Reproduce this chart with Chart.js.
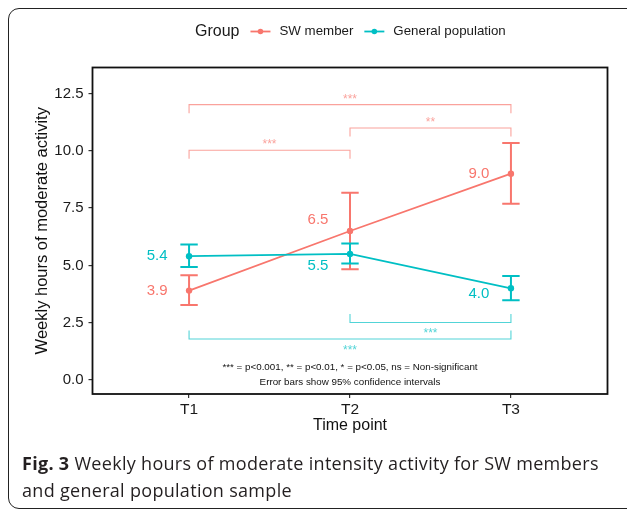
<!DOCTYPE html>
<html>
<head>
<meta charset="utf-8">
<script src="https://cdn.jsdelivr.net/npm/chart.js@4.4.1/dist/chart.umd.min.js"></script>
<style>
  html, body { margin: 0; padding: 0; background: #fff; overflow: hidden; }
  #wrap { position: relative; width: 627px; height: 511px; }
  #frame { position: absolute; left: 8px; top: 8px; width: 660px; height: 501px;
           border: 1.6px solid #222; border-radius: 11px; box-sizing: border-box; }
  #chart { position: absolute; left: 0; top: 0; }
  #caption { position: absolute; left: 22px; top: 450px; width: 605px;
             font-family: "Open Sans", "Noto Sans", sans-serif; font-size: 18px;
             letter-spacing: 0.3px; line-height: 27px; color: #231f20; white-space: nowrap; }
  #caption b { font-weight: 700; }
</style>
</head>
<body>
<div id="wrap">
  <div id="frame"></div>
  <canvas id="chart" width="627" height="511"></canvas>
  <div id="caption"><b>Fig. 3</b> Weekly hours of moderate intensity activity for SW members<br>and general population sample</div>
</div>
<script>
// Time points on the x axis
const timePoints = ['T1', 'T2', 'T3'];

// Slimming World members: mean weekly hours and 95% CI
const swMean  = [3.9, 6.5, 9.0];
const swLower = [3.27, 4.83, 7.69];
const swUpper = [4.57, 8.17, 10.34];

// General population sample: mean weekly hours and 95% CI
const genMean  = [5.4, 5.5, 4.0];
const genLower = [4.93, 5.08, 3.48];
const genUpper = [5.91, 5.95, 4.54];

// Y axis tick values
const yTicks = [0, 2.5, 5, 7.5, 10, 12.5];

// Pairwise comparisons: [from time point, to time point, bracket level, significance]
const swBrackets  = [[0, 2, 12.01, '***'], [1, 2, 10.99, '**'], [0, 1, 10.02, '***']];
const genBrackets = [[1, 2, 2.51, '***'], [0, 2, 1.79, '***']];

// Footnote lines under the plot
const notes = ['*** = p<0.001, ** = p<0.01, * = p<0.05, ns = Non-significant',
               'Error bars show 95% confidence intervals'];

const RED = '#F8766D';
const TEAL = '#00BFC4';
const FONT = '"Liberation Sans", Arial, sans-serif';

const toPoints = arr => arr.map((v, i) => ({ x: i + 1, y: v }));

const series = [
  { label: 'SW member', mean: swMean, lower: swLower, upper: swUpper, color: RED,
    faint: 'rgba(248,118,109,0.68)', brackets: swBrackets, dir: -1,
    nudge: [[0, 0], [0, -11], [0, 0]] },
  { label: 'General population', mean: genMean, lower: genLower, upper: genUpper, color: TEAL,
    faint: 'rgba(0,191,196,0.68)', brackets: genBrackets, dir: 1,
    nudge: [[0, 0], [0, 12], [0, 6]] }
];

// Error bars, drawn straight after each dataset's line
const errorBars = {
  id: 'errorBars',
  afterDatasetDraw(chart, args) {
    const s = series[args.index];
    const { ctx, scales: { x, y } } = chart;
    ctx.save();
    ctx.strokeStyle = s.color;
    ctx.lineWidth = 2;
    s.mean.forEach((_, i) => {
      const px = x.getPixelForValue(i + 1);
      const lo = y.getPixelForValue(s.lower[i]);
      const hi = y.getPixelForValue(s.upper[i]);
      ctx.beginPath();
      ctx.moveTo(px, lo); ctx.lineTo(px, hi);
      ctx.moveTo(px - 8.7, lo); ctx.lineTo(px + 8.7, lo);
      ctx.moveTo(px - 8.7, hi); ctx.lineTo(px + 8.7, hi);
      ctx.stroke();
    });
    ctx.restore();
  }
};

// Value labels, significance brackets, footnote, panel border and legend
const decorations = {
  id: 'decorations',
  afterDatasetsDraw(chart) {
    const { ctx, chartArea: a, scales: { x, y } } = chart;
    ctx.save();

    // significance brackets
    series.forEach(s => {
      ctx.strokeStyle = s.faint;
      ctx.fillStyle = s.faint;
      ctx.lineWidth = 1.1;
      s.brackets.forEach(([from, to, level, sig]) => {
        const x1 = x.getPixelForValue(from + 1);
        const x2 = x.getPixelForValue(to + 1);
        const yl = y.getPixelForValue(level);
        const tip = yl - s.dir * 8.5;
        ctx.beginPath();
        ctx.moveTo(x1, tip); ctx.lineTo(x1, yl); ctx.lineTo(x2, yl); ctx.lineTo(x2, tip);
        ctx.stroke();
        ctx.font = '12px ' + FONT;
        ctx.textAlign = 'center';
        ctx.textBaseline = 'alphabetic';
        ctx.fillText(sig, (x1 + x2) / 2, s.dir < 0 ? yl - 2 : yl + 15);
      });
    });

    // value labels
    ctx.font = '15px ' + FONT;
    ctx.textAlign = 'center';
    ctx.textBaseline = 'middle';
    series.forEach(s => {
      ctx.fillStyle = s.color;
      s.mean.forEach((v, i) => {
        const px = x.getPixelForValue(i + 1) - 32 + s.nudge[i][0];
        const py = y.getPixelForValue(v) + s.nudge[i][1];
        ctx.fillText(v.toFixed(1), px, py);
      });
    });

    // footnote
    ctx.fillStyle = '#111';
    ctx.font = '9.8px ' + FONT;
    const cx = (a.left + a.right) / 2;
    notes.forEach((t, i) => ctx.fillText(t, cx, a.bottom - 26.5 + i * 15));

    // panel border
    ctx.strokeStyle = '#111';
    ctx.lineWidth = 1.8;
    ctx.strokeRect(a.left, a.top, a.right - a.left, a.bottom - a.top);

    // legend
    const ly = 31.5;
    let lx = 195;
    ctx.textAlign = 'left';
    ctx.fillStyle = '#1a1a1a';
    ctx.font = '16px ' + FONT;
    ctx.fillText('Group', lx, ly);
    lx += ctx.measureText('Group').width + 11;
    ctx.font = '13.3px ' + FONT;
    series.forEach(s => {
      ctx.strokeStyle = s.color;
      ctx.fillStyle = s.color;
      ctx.lineWidth = 1.8;
      ctx.beginPath(); ctx.moveTo(lx, ly); ctx.lineTo(lx + 20, ly); ctx.stroke();
      ctx.beginPath(); ctx.arc(lx + 10, ly, 2.8, 0, Math.PI * 2); ctx.fill();
      lx += 29;
      ctx.fillStyle = '#1a1a1a';
      ctx.fillText(s.label, lx, ly);
      lx += ctx.measureText(s.label).width + 11;
    });
    ctx.restore();
  }
};

new Chart(document.getElementById('chart'), {
  type: 'scatter',
  data: {
    datasets: series.map((s, i) => ({
      label: s.label,
      data: toPoints(s.mean),
      showLine: true,
      borderColor: s.color,
      backgroundColor: s.color,
      borderWidth: 1.8,
      pointRadius: 3.2,
      pointHoverRadius: 3.2,
      pointBorderWidth: 0,
      order: 2 - i
    }))
  },
  options: {
    responsive: false,
    animation: false,
    devicePixelRatio: 1,
    layout: { padding: { left: 33, top: 67.5, right: 19.5, bottom: 75.5 } },
    plugins: { legend: { display: false }, tooltip: { enabled: false } },
    scales: {
      x: {
        type: 'linear', min: 0.4, max: 3.6,
        afterBuildTicks: s => { s.ticks = timePoints.map((_, i) => ({ value: i + 1 })); },
        afterFit: s => { s.height = 41.5; },
        ticks: { callback: (v, i) => timePoints[i], color: '#1a1a1a',
                 font: { family: FONT, size: 15.5 }, padding: 2, maxRotation: 0, autoSkip: false },
        grid: { drawOnChartArea: false, drawTicks: true, tickLength: 4, color: '#333', lineWidth: 1.2 },
        border: { display: false },
        title: { display: true, text: 'Time point', color: '#111',
                 font: { family: FONT, size: 16 }, padding: { top: 0, bottom: 0 } }
      },
      y: {
        type: 'linear', min: -0.61, max: 13.63,
        afterBuildTicks: s => { s.ticks = yTicks.map(v => ({ value: v })); },
        afterFit: s => { s.width = 59.5; },
        ticks: { callback: v => v.toFixed(1), color: '#1a1a1a',
                 font: { family: FONT, size: 15 }, padding: 5 },
        grid: { drawOnChartArea: false, drawTicks: true, tickLength: 4, color: '#333', lineWidth: 1.2 },
        border: { display: false },
        title: { display: true, text: 'Weekly hours of moderate activity', color: '#111',
                 font: { family: FONT, size: 16.5 }, padding: { top: 0, bottom: 0 } }
      }
    }
  },
  plugins: [errorBars, decorations]
});
</script>
</body>
</html>
